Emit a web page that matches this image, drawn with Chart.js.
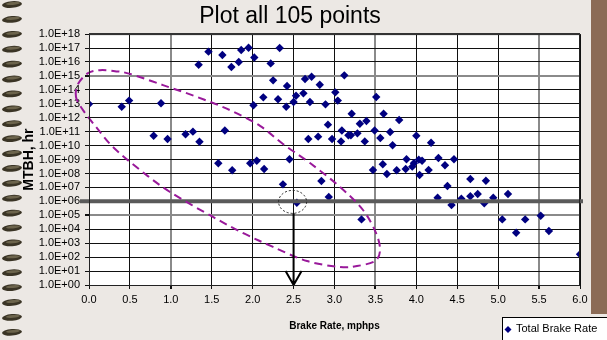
<!DOCTYPE html>
<html><head><meta charset="utf-8">
<script src="https://cdn.jsdelivr.net/npm/chart.js@4.4.1/dist/chart.umd.min.js"></script>
<style>
html,body{margin:0;padding:0;background:#ECE8E4;overflow:hidden;}
#wrap{position:relative;width:607px;height:340px;}
</style></head><body>
<div id="wrap"><canvas id="c" width="607" height="340"></canvas></div>
<script>
// ---- data ----
const chartTitle = 'Plot all 105 points';
const seriesName = 'Total Brake Rate';
const xAxisTitle = 'Brake Rate, mphps';
const yAxisTitle = 'MTBH, hr';

const brakeRate = [0.00,0.40,0.49,0.88,0.79,0.96,1.18,1.27,1.35,1.66,
  1.34,1.46,1.63,1.74,1.83,1.86,1.95,2.02,2.01,1.58,
  1.75,1.97,2.05,2.33,2.22,2.25,2.42,2.13,2.31,2.41,
  2.50,2.53,2.62,2.64,2.72,2.70,2.82,2.89,3.01,3.04,
  3.12,3.21,2.92,2.68,2.80,2.97,3.08,3.09,3.17,3.20,
  3.28,3.31,3.39,3.37,3.51,3.49,3.56,3.60,3.68,3.71,
  3.79,4.00,2.14,2.45,3.47,3.59,3.64,3.76,3.87,3.88,
  3.95,3.97,4.04,4.18,4.07,4.15,4.27,4.35,4.46,4.66,
  4.85,4.38,4.26,4.43,4.55,4.66,4.75,4.83,4.94,5.12,
  5.05,5.22,5.33,5.52,5.62,6.00,2.37,2.84,2.93,3.33,
  2.54,4.03];
const mtbh = [9.5e12,6.2e12,1.7e13,1.1e13,5.1e10,3.0e10,6.5e10,1.0e11,1.9e10,1.2e11,
  6.3e15,5.5e16,3.2e16,4.4e15,1.0e16,7.2e16,1.05e17,2.1e16,7.8e12,5.4e8,
  1.7e8,5.4e8,8.3e8,1.0e17,7.9e15,4.8e14,1.9e14,2.9e13,2.1e13,6.2e12,
  1.35e13,3.8e13,5.6e13,6.0e14,8.7e14,1.35e13,2.3e14,9.1e12,6.6e13,1.7e13,
  1.1e15,1.95e12,3.2e11,3.0e10,4.4e10,3.0e10,2.0e10,1.2e11,5.5e10,5.5e10,
  7.6e10,3.7e11,5.8e11,2.0e10,3.1e13,1.2e11,3.5e10,1.95e12,9.5e10,1.05e10,
  6.9e11,5.1e10,2.1e8,1.05e9,1.8e8,4.6e8,9.1e7,1.7e8,2.1e8,1.05e9,
  3.1e8,5.4e8,7.8e7,1.6e10,8.3e8,1.8e8,1.3e9,3.9e8,1.05e9,4.0e7,
  3.0e7,1.26e7,1.8e6,5.5e5,1.55e6,2.3e6,3.4e6,7.2e5,1.8e6,3.4e6,
  5.1e4,5.6e3,5.1e4,9.3e4,7.4e3,1.6e2,1.66e7,2.9e7,2.1e6,5.1e4,
  7.9e5,9.8e8];

const xTickValues = [0,0.5,1,1.5,2,2.5,3,3.5,4,4.5,5,5.5,6];
const xTickLabels = ['0.0','0.5','1.0','1.5','2.0','2.5','3.0','3.5','4.0','4.5','5.0','5.5','6.0'];
const yTickValues = [1e0,1e1,1e2,1e3,1e4,1e5,1e6,1e7,1e8,1e9,1e10,1e11,1e12,1e13,1e14,1e15,1e16,1e17,1e18];
const yTickLabels = ['1.0E+00','1.0E+01','1.0E+02','1.0E+03','1.0E+04','1.0E+05','1.0E+06','1.0E+07','1.0E+08','1.0E+09',
  '1.0E+10','1.0E+11','1.0E+12','1.0E+13','1.0E+14','1.0E+15','1.0E+16','1.0E+17','1.0E+18'];

// annotations, in data coordinates (brake rate, MTBH)
const thresholdMTBH = 1e6;
const focusRate = 2.5;
const loopRate = [-0.159,-0.134,-0.012,0.134,0.318,0.501,0.904,1.320,1.723,2.090,2.371,2.701,3.068,3.348,3.507,3.556,3.495,3.275,3.068,2.664,2.249,1.906,1.515,0.990,0.623,0.293,0.098,-0.073];
const loopMTBH = [3.1e13,2.6e14,1.6e15,2.6e15,2.2e15,1.4e15,2.2e14,3.1e13,3.5e12,2.6e11,1.3e10,5.6e8,1.07e7,2.4e5,5.4e3,3.2e2,52,23,19.5,52,5.4e2,4.6e3,7.6e4,4.7e6,1.8e8,7.9e9,1.8e11,3.5e12];

const FONT = "'Liberation Sans', Arial, sans-serif";

const decorPlugin = {
  id: 'decor',
  beforeDraw(chart) {
    const {ctx, chartArea: a, width, height} = chart;
    ctx.save();
    ctx.fillStyle = '#ECE8E4';
    ctx.fillRect(0, 0, width, height);
    // right brown band
    ctx.fillStyle = '#8B6B56';
    ctx.fillRect(591, 0, width - 591, 314);
    // spiral binding rings
    for (let k = 0; k < 23; k++) {
      const cy = 4.5 + 14.9 * k;
      ctx.beginPath();
      ctx.ellipse(12, cy, 10, 3.3, -0.08, 0, Math.PI * 2);
      ctx.fillStyle = '#3a3425';
      ctx.fill();
      ctx.beginPath();
      ctx.ellipse(13, cy - 1, 7, 1.4, -0.08, 0, Math.PI * 2);
      ctx.fillStyle = 'rgba(150,140,110,0.55)';
      ctx.fill();
    }
    // plot area
    ctx.fillStyle = '#FFFFFF';
    ctx.fillRect(a.left, a.top, a.right - a.left, a.bottom - a.top);
    ctx.restore();
  }
};

function smoothClosed(ctx, pts) {
  const n = pts.length;
  ctx.moveTo(pts[0][0], pts[0][1]);
  for (let i = 0; i < n; i++) {
    const p0 = pts[(i - 1 + n) % n], p1 = pts[i], p2 = pts[(i + 1) % n], p3 = pts[(i + 2) % n];
    const c1x = p1[0] + (p2[0] - p0[0]) / 6, c1y = p1[1] + (p2[1] - p0[1]) / 6;
    const c2x = p2[0] - (p3[0] - p1[0]) / 6, c2y = p2[1] - (p3[1] - p1[1]) / 6;
    ctx.bezierCurveTo(c1x, c1y, c2x, c2y, p2[0], p2[1]);
  }
}

const annoPlugin = {
  id: 'anno',
  afterDatasetsDraw(chart) {
    const {ctx, chartArea: a, scales: {x, y}} = chart;
    ctx.save();
    // threshold band at 1E+06
    const ty = y.getPixelForValue(thresholdMTBH);
    ctx.strokeStyle = '#5a5a5a';
    ctx.lineWidth = 4;
    ctx.beginPath();
    ctx.moveTo(a.left - 9, ty);
    ctx.lineTo(a.right + 3, ty);
    ctx.stroke();
    // purple dashed loop
    const pts = loopRate.map((r, i) => [x.getPixelForValue(r), y.getPixelForValue(loopMTBH[i])]);
    ctx.strokeStyle = '#99199A';
    ctx.lineWidth = 2;
    ctx.setLineDash([8, 5]);
    ctx.beginPath();
    smoothClosed(ctx, pts);
    ctx.stroke();
    // dashed circle around focus point
    const fx = x.getPixelForValue(focusRate);
    ctx.strokeStyle = '#222';
    ctx.lineWidth = 1;
    ctx.setLineDash([2, 2]);
    ctx.beginPath();
    ctx.ellipse(fx - 1, ty + 0.5, 14, 11.5, 0, 0, Math.PI * 2);
    ctx.stroke();
    // arrow down to the x axis
    ctx.setLineDash([]);
    ctx.strokeStyle = '#000';
    ctx.lineWidth = 2;
    const y0 = ty + 12, y1 = y.getPixelForValue(1);
    ctx.beginPath();
    ctx.moveTo(fx, y0);
    ctx.lineTo(fx, y1);
    ctx.moveTo(fx - 8, y1 - 14);
    ctx.lineTo(fx, y1);
    ctx.lineTo(fx + 8, y1 - 14);
    ctx.stroke();
    ctx.restore();
  },
  afterDraw(chart) {
    const {ctx, chartArea: a} = chart;
    ctx.save();
    // plot frame
    ctx.strokeStyle = '#222';
    ctx.lineWidth = 1;
    ctx.strokeRect(a.left + 0.5, a.top + 0.5, a.right - a.left - 1, a.bottom - a.top);
    ctx.lineWidth = 2;
    ctx.strokeStyle = '#333';
    ctx.beginPath(); ctx.moveTo(a.left, a.top); ctx.lineTo(a.right, a.top); ctx.stroke();
    // legend box
    ctx.lineWidth = 1;
    ctx.fillStyle = '#fff';
    ctx.strokeStyle = '#000';
    ctx.fillRect(502.5, 317.5, 120, 30);
    ctx.strokeRect(502.5, 317.5, 120, 30);
    const ds = chart.data.datasets[0];
    ctx.fillStyle = ds.backgroundColor;
    ctx.beginPath();
    ctx.moveTo(508, 326); ctx.lineTo(511.5, 329.5); ctx.lineTo(508, 333); ctx.lineTo(504.5, 329.5); ctx.closePath();
    ctx.fill();
    ctx.fillStyle = '#000';
    ctx.font = '11px ' + FONT;
    ctx.textBaseline = 'middle';
    ctx.textAlign = 'left';
    ctx.fillText(ds.label, 516, 328.5);
    ctx.restore();
  }
};

const points = brakeRate.map((r, i) => ({x: r, y: mtbh[i]}));

new Chart(document.getElementById('c'), {
  type: 'scatter',
  data: {
    datasets: [{
      label: seriesName,
      data: points,
      pointStyle: 'rectRot',
      pointRadius: 4.2,
      pointHoverRadius: 4.2,
      backgroundColor: '#000080',
      borderColor: '#000080',
      borderWidth: 0
    }]
  },
  options: {
    responsive: false,
    animation: false,
    devicePixelRatio: 1,
    layout: {padding: {left: 0, right: 27, top: 0, bottom: 0}},
    plugins: {
      legend: {display: false},
      tooltip: {enabled: false},
      title: {
        display: true, text: chartTitle, color: '#000',
        font: {family: FONT, size: 23, weight: 'normal'},
        padding: {top: 2.5, bottom: 4}
      }
    },
    scales: {
      x: {
        type: 'linear', min: 0, max: 6,
        afterBuildTicks(s) { s.ticks = xTickValues.map(v => ({value: v})); },
        afterFit(s) { s.height = 55; },
        ticks: {
          autoSkip: false, maxRotation: 0, color: '#000', padding: 4,
          font: {family: FONT, size: 11},
          callback: (v, i) => xTickLabels[i]
        },
        grid: {
          color: c => ([1, 3.5, 5.5].includes(c.tick && c.tick.value) ? '#8a8a8a' : '#111'),
          lineWidth: c => ([1, 3.5, 5.5].includes(c.tick && c.tick.value) ? 2 : 1),
          tickColor: '#111', tickLength: 4
        },
        border: {color: '#111', width: 1},
        title: {
          display: true, text: xAxisTitle, color: '#000',
          font: {family: FONT, size: 10, weight: 'bold'},
          padding: {top: 0, bottom: 8}
        }
      },
      y: {
        type: 'logarithmic', min: 1, max: 1e18,
        afterBuildTicks(s) { s.ticks = yTickValues.map(v => ({value: v, major: true})); },
        afterFit(s) { s.width = 89; },
        ticks: {
          autoSkip: false, color: '#000', padding: 5,
          font: {family: FONT, size: 11},
          callback: (v, i) => yTickLabels[i]
        },
        grid: {
          color: c => ([1e5, 1e15].includes(c.tick && c.tick.value) ? '#8a8a8a' : '#111'),
          lineWidth: c => ([1e5, 1e15].includes(c.tick && c.tick.value) ? 2 : 1),
          tickColor: '#111', tickLength: 4
        },
        border: {color: '#111', width: 1},
        title: {
          display: true, text: yAxisTitle, color: '#000',
          font: {family: FONT, size: 14, weight: 'bold'},
          padding: {top: 21, bottom: 0}
        }
      }
    }
  },
  plugins: [decorPlugin, annoPlugin]
});
</script>
</body></html>
